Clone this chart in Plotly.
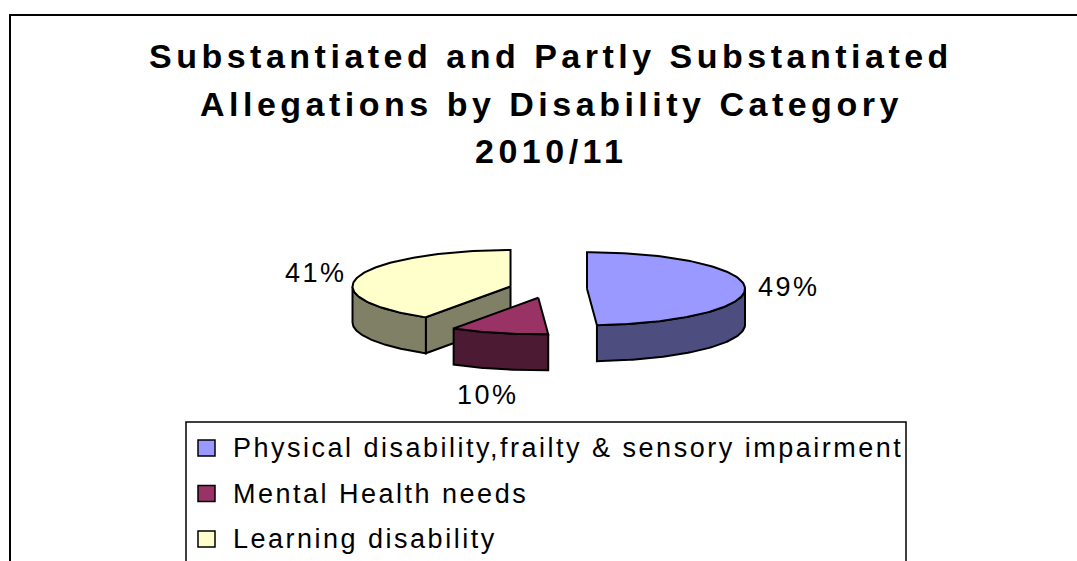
import numpy as np
import plotly.graph_objects as go

# Chart data
categories = [
    "Physical disability,frailty & sensory impairment",
    "Mental Health needs",
    "Learning disability",
]
shares = [49, 10, 41]  # percent of substantiated / partly substantiated allegations
title_lines = [
    "Substantiated and Partly Substantiated",
    "Allegations by Disability Category",
    "2010/11",
]

# Styling
top_colors = ["#9999FF", "#993366", "#FFFFCC"]
side_colors = ["#4D4D80", "#4D1A33", "#808066"]
FONT = "Liberation Sans, Arial, sans-serif"

W, H = 1077, 561
# 3-D pie geometry (pixel space)
CX, CY = 548.0, 289.0
RX, RY = 158.0, 36.5
DEPTH = 36.0
EXPLODE = 0.247

fig = go.Figure()


def spaced(text, px):
    return f'<span style="letter-spacing:{px}px">{text}</span>'


def pt(cx, cy, ang):
    a = np.radians(ang)
    return cx + RX * np.sin(a), cy - RY * np.cos(a)


def poly(xs, ys, color):
    fig.add_trace(go.Scatter(
        x=list(xs) + [xs[0]], y=list(ys) + [ys[0]],
        mode="lines", fill="toself", fillcolor=color,
        line=dict(color="black", width=2), hoverinfo="skip", showlegend=False,
    ))


total = float(sum(shares))
slices = []
start = 0.0
for i, v in enumerate(shares):
    span = 360.0 * v / total
    a0, a1 = start, start + span
    mid = np.radians((a0 + a1) / 2)
    ccx = CX + EXPLODE * RX * np.sin(mid)
    ccy = CY - EXPLODE * RY * np.cos(mid)
    slices.append(dict(i=i, a0=a0, a1=a1, mid=mid, cx=ccx, cy=ccy))
    start = a1

# paint back slices first
for s in sorted(slices, key=lambda d: d["cy"]):
    i, a0, a1, cx, cy = s["i"], s["a0"], s["a1"], s["cx"], s["cy"]
    # radial side faces that turn towards the viewer
    for ang, vis in ((a0, -np.sin(np.radians(a0))), (a1, np.sin(np.radians(a1)))):
        if vis > 0.1:
            ex, ey = pt(cx, cy, ang)
            poly([cx, ex, ex, cx], [cy, ey, ey + DEPTH, cy + DEPTH], side_colors[i])
    # outer curved wall (front half only)
    lo, hi = max(a0, 90.0), min(a1, 270.0)
    if hi > lo:
        angs = np.linspace(lo, hi, 80)
        xs, ys = pt(cx, cy, angs)
        poly(np.concatenate([xs, xs[::-1]]),
             np.concatenate([ys, ys[::-1] + DEPTH]), side_colors[i])
    # top face
    angs = np.linspace(a0, a1, 120)
    xs, ys = pt(cx, cy, angs)
    poly(np.concatenate([[cx], xs]), np.concatenate([[cy], ys]), top_colors[i])

# percentage labels
for s in slices:
    m = s["mid"]
    lx = s["cx"] + 1.28 * RX * np.sin(m)
    ly = s["cy"] - 1.28 * RY * np.cos(m) + 1.5 * DEPTH * max(0.0, -np.cos(m))
    fig.add_annotation(x=lx, y=ly, text=spaced(f"{shares[s['i']]}%", 2.5), showarrow=False,
                       xanchor="center", yanchor="middle",
                       font=dict(family=FONT, size=27, color="black"))

# title
for k, line in enumerate(title_lines):
    fig.add_annotation(x=551, y=56 + 47.5 * k, text=f"<b>{spaced(line, 4.5)}</b>",
                       showarrow=False, xanchor="center", yanchor="middle",
                       font=dict(family=FONT, size=34, color="black"))

shapes = [
    # chart frame
    dict(type="rect", x0=10, y0=15, x1=W + 20, y1=H + 20,
         line=dict(color="black", width=2), fillcolor="rgba(0,0,0,0)", layer="below"),
    # legend frame
    dict(type="rect", x0=186, y0=422, x1=906, y1=H + 20,
         line=dict(color="black", width=1.5), fillcolor="white", layer="below"),
]
for k, name in enumerate(categories):
    yc = 448 + 45.5 * k
    shapes.append(dict(type="rect", x0=198, y0=yc - 8, x1=215, y1=yc + 8,
                       line=dict(color="black", width=1.5), fillcolor=top_colors[k]))
    fig.add_annotation(x=231, y=yc, text=spaced(name, 2.5), showarrow=False,
                       xanchor="left", yanchor="middle",
                       font=dict(family=FONT, size=27, color="black"))

fig.update_layout(
    width=W, height=H, margin=dict(l=0, r=0, t=0, b=0),
    paper_bgcolor="white", plot_bgcolor="white",
    xaxis=dict(range=[0, W], visible=False, fixedrange=True),
    yaxis=dict(range=[H, 0], visible=False, fixedrange=True),
    shapes=shapes, showlegend=False,
)

fig.write_html("out.html")
